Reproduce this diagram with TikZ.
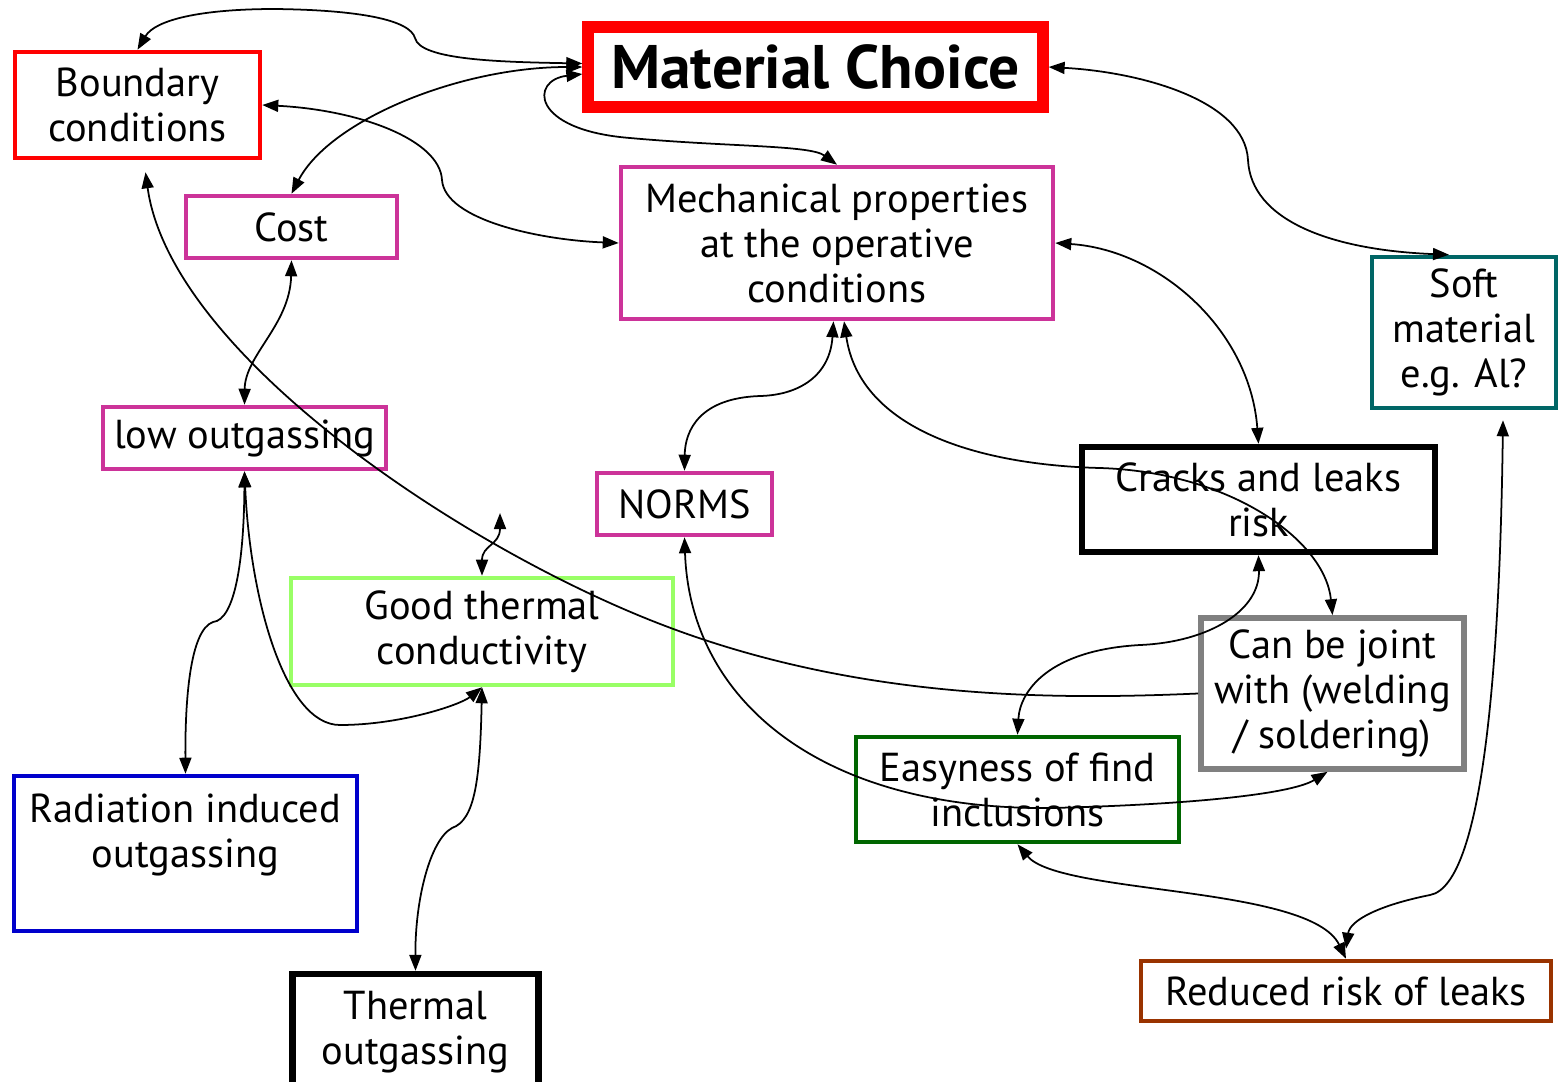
\documentclass[tikz,border=0pt]{standalone}
\usepackage{fontspec}
\setmainfont{PT Sans}
\usepackage{tikz}
\usetikzlibrary{arrows.meta}
\definecolor{boxred}{HTML}{FF0000}
\definecolor{boxpink}{HTML}{CC3399}
\definecolor{boxteal}{HTML}{006666}
\definecolor{boxlime}{HTML}{99FF66}
\definecolor{boxgreen}{HTML}{006600}
\definecolor{boxblue}{HTML}{0000CC}
\definecolor{boxgray}{HTML}{808080}
\definecolor{boxbrown}{HTML}{993300}
\tikzset{
    base/.style={draw, align=center, inner sep=1pt, line width=1.3pt, font=\fontsize{11.5}{12.8}\selectfont},
    titlebox/.style={base, draw=boxred, line width=3.2pt, font=\fontsize{17.5}{20}\selectfont\bfseries},
    redbox/.style={base, draw=boxred},
    pinkbox/.style={base, draw=boxpink},
    tealbox/.style={base, draw=boxteal},
    limebox/.style={base, draw=boxlime},
    greenbox/.style={base, draw=boxgreen},
    bluebox/.style={base, draw=boxblue},
    graybox/.style={base, draw=boxgray, line width=1.6pt},
    brownbox/.style={base, draw=boxbrown},
    blackbox/.style={base, draw=black, line width=1.8pt},
    link/.style={{Triangle[length=1.6mm, width=1.2mm]}-{Triangle[length=1.6mm, width=1.2mm]}, line width=0.5pt},
    backlink/.style={{Triangle[length=1.6mm, width=1.2mm]}-, line width=0.5pt}
}

\begin{document}
\begin{tikzpicture}
    \useasboundingbox (0, 0) rectangle (15.58, -10.82);

    % Top row
    \node[titlebox, minimum width=4.55cm, minimum height=0.8cm] (choice) at (8.155, -0.67) {Material Choice};
    \node[redbox, minimum width=2.45cm, minimum height=1.06cm] (bound) at (1.375, -1.05) {Boundary\\conditions};
    \node[pinkbox, minimum width=2.11cm, minimum height=0.62cm] (cost) at (2.915, -2.27) {Cost};
    \node[pinkbox, minimum width=4.32cm, minimum height=1.52cm] (mech) at (8.37, -2.43) {Mechanical properties\\at the operative\\conditions};
    \node[tealbox, minimum width=1.84cm, minimum height=1.51cm] (soft) at (14.64, -3.325) {Soft\\material\\e.g. Al?};

    % Middle row
    \node[pinkbox, minimum width=2.83cm, minimum height=0.62cm] (lowout) at (2.445, -4.38) {low outgassing};
    \node[pinkbox, minimum width=1.75cm, minimum height=0.62cm] (norms) at (6.845, -5.04) {NORMS};
    \node[blackbox, minimum width=3.53cm, minimum height=1.05cm] (cracks) at (12.585, -4.995) {Cracks and leaks\\risk};
    \node[limebox, minimum width=3.82cm, minimum height=1.07cm] (thermcond) at (4.82, -6.315) {Good thermal\\conductivity};
    \node[graybox, minimum width=2.63cm, minimum height=1.51cm] (joint) at (13.325, -6.935) {Can be joint\\with (welding\\/ soldering)};
    \coordinate (gtip) at (5.0, -5.13);

    % Bottom row
    \node[greenbox, minimum width=3.23cm, minimum height=1.05cm] (easy) at (10.175, -7.895) {Easyness of find\\inclusions};
    \node[bluebox, minimum width=3.43cm, minimum height=1.55cm] (radout) at (1.855, -8.535) {Radiation induced\\outgassing\\~};
    \node[blackbox, minimum width=2.46cm, minimum height=1.16cm] (thermout) at (4.155, -10.32) {Thermal\\outgassing};
    \node[brownbox, minimum width=4.1cm, minimum height=0.6cm] (reduced) at (13.46, -9.91) {Reduced risk of leaks};

    % Links to Material Choice
    \draw[link] (bound.north) .. controls (1.55, -0.2) and (2.0, -0.09) .. (2.75, -0.09) .. controls (3.6, -0.1) and (4.1, -0.2) .. (4.15, -0.38) .. controls (4.2, -0.6) and (5.0, -0.62) .. ([yshift=1pt]choice.west);
    \draw[link] (cost.north) .. controls (3.3, -1.2) and (4.6, -0.67) .. (choice.west);
    \draw[link] ([yshift=-2pt]choice.west) .. controls (5.3, -0.8) and (5.3, -1.3) .. (6.3, -1.38) .. controls (7.3, -1.47) and (8.1, -1.45) .. (mech.north);
    \draw[link] (choice.east) .. controls (11.4, -0.72) and (12.45, -1.0) .. (12.48, -1.6) .. controls (12.51, -2.2) and (13.3, -2.5) .. ([xshift=-0.15cm]soft.north);

    % Links around the mechanical properties
    \draw[link] (bound.east) .. controls (3.6, -1.1) and (4.4, -1.4) .. (4.42, -1.8) .. controls (4.45, -2.2) and (5.4, -2.4) .. (mech.west);
    \draw[link] (mech.east) .. controls (11.6, -2.5) and (12.5, -3.3) .. (cracks.north);
    \draw[link] ([xshift=-1pt]mech.south) .. controls (8.3, -3.75) and (8.0, -3.95) .. (7.6, -3.96) .. controls (7.0, -3.98) and (6.85, -4.3) .. (norms.north);
    \draw[link] ([xshift=2pt]mech.south) .. controls (8.6, -4.3) and (9.8, -4.65) .. (11.0, -4.68) .. controls (12.3, -4.72) and (13.25, -5.4) .. (joint.north);
    \draw[link] (cracks.south) .. controls (12.6, -6.1) and (12.1, -6.42) .. (11.4, -6.45) .. controls (10.5, -6.5) and (10.2, -6.9) .. (easy.north);
    \draw[backlink] ([shift={(0.08, -0.12)}]bound.south) .. controls (1.7, -3.5) and (4.5, -5.4) .. (6.5, -6.2) .. controls (8.5, -7.0) and (10.5, -7.0) .. (joint.west);

    % Outgassing links
    \draw[link] (lowout.north) .. controls (2.45, -3.55) and (2.9, -3.25) .. (cost.south);
    \draw[link] (lowout.south) .. controls (2.44, -5.6) and (2.35, -6.2) .. (2.13, -6.22) .. controls (1.9, -6.3) and (1.85, -7.0) .. (radout.north);
    \draw[link] (lowout.south) .. controls (2.5, -6.0) and (2.85, -7.25) .. (3.4, -7.25) .. controls (4.0, -7.25) and (4.6, -7.05) .. (thermcond.south);
    \draw[link] (thermcond.north) .. controls (4.82, -5.45) and (5.0, -5.45) .. (gtip);
    \draw[link] (thermcond.south) .. controls (4.8, -7.8) and (4.75, -8.2) .. (4.52, -8.28) .. controls (4.3, -8.4) and (4.15, -9.0) .. (thermout.north);

    % Links at the bottom right
    \draw[link] (norms.south) .. controls (6.9, -7.0) and (8.2, -8.1) .. (10.5, -8.08) .. controls (11.8, -8.05) and (12.9, -7.95) .. ([xshift=-0.05cm]joint.south);
    \draw[link] (easy.south) .. controls (10.6, -8.95) and (13.1, -8.85) .. (reduced.north);
    \draw[link] ([shift={(0.39, -0.1)}]soft.south) .. controls (15.0, -6.5) and (14.85, -8.85) .. (14.3, -8.95) .. controls (13.8, -9.05) and (13.5, -9.2) .. ([yshift=0.1cm]reduced.north);
\end{tikzpicture}
\end{document}
